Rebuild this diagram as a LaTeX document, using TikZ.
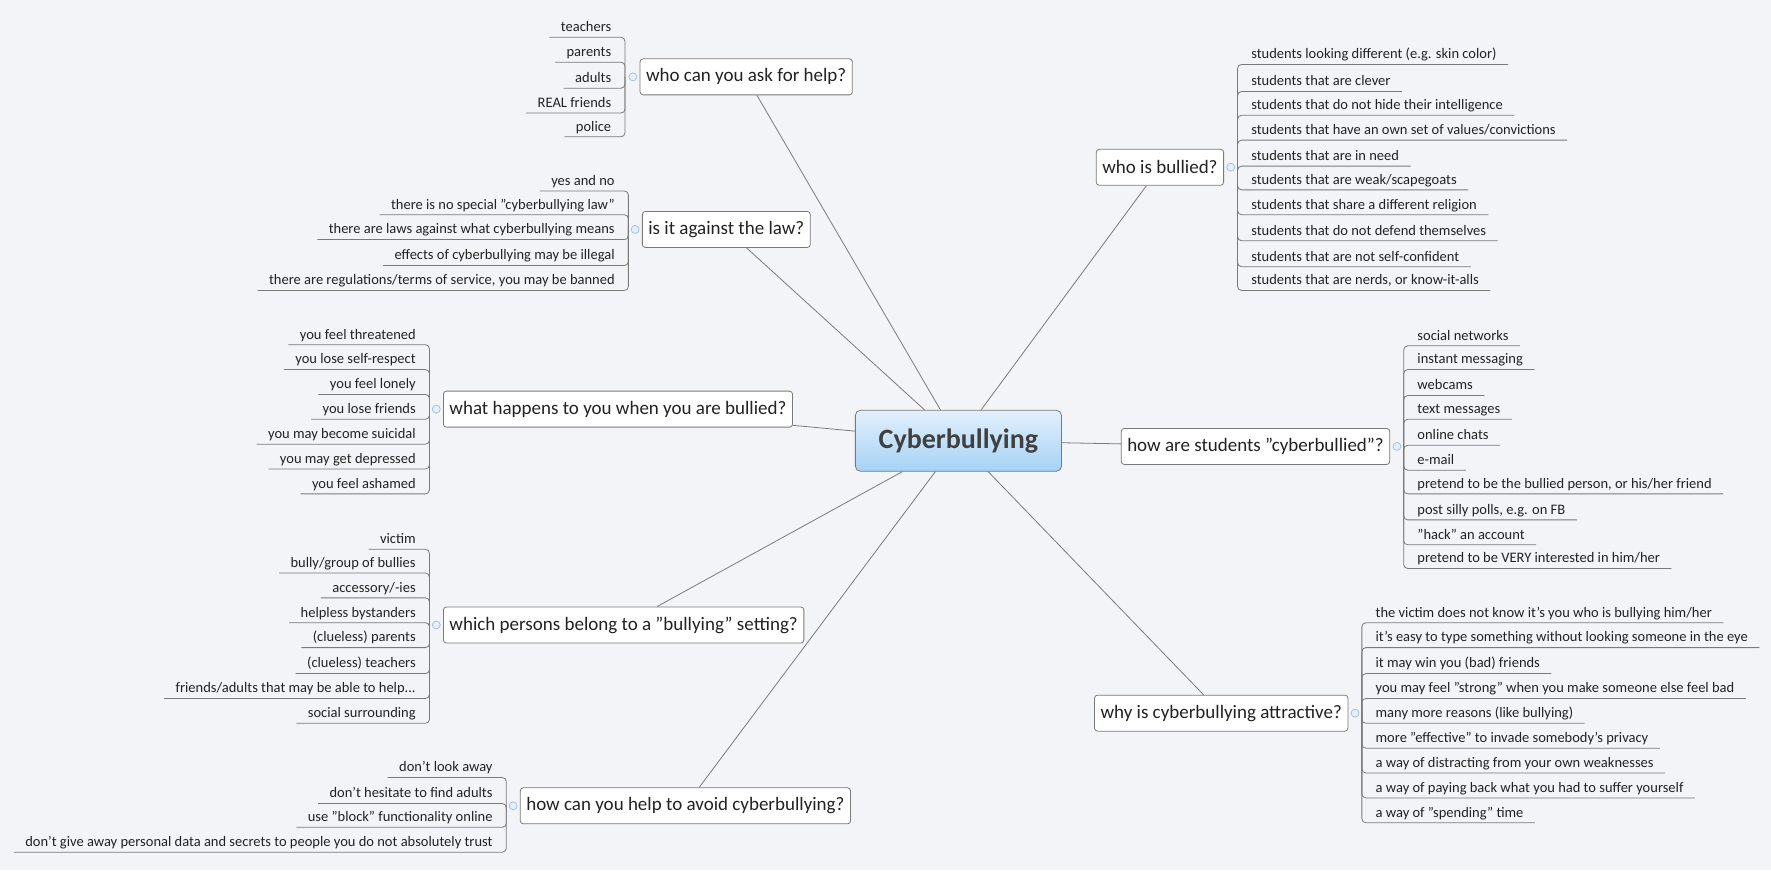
\documentclass[tikz,border=0pt]{standalone}
\usepackage{fontspec}
\setmainfont{Carlito}
\usetikzlibrary{calc}
\definecolor{bg}{HTML}{F3F4F8}
\definecolor{ln}{HTML}{7A7A7A}
\definecolor{tx}{HTML}{222222}
\definecolor{jt}{HTML}{9DBCE0}
\definecolor{ctop}{HTML}{E2F0FC}
\definecolor{cbot}{HTML}{A6D2F5}
\tikzset{
  leaf/.style={inner sep=0pt,font=\fontsize{14.5}{16}\selectfont,text=tx},
  leafline/.style={draw=ln,line width=0.8pt,rounded corners=4pt},
  branch/.style={draw=ln,fill=white,rounded corners=3pt,minimum height=36pt,inner xsep=6pt,font=\fontsize{19}{21}\selectfont,text=tx,line width=0.8pt},
  conn/.style={draw=ln,line width=0.8pt},
  joint/.style={circle,draw=jt,fill=jt!25,inner sep=0pt,minimum size=8pt,line width=0.7pt},
}
\newcommand\LL[5]{\node[leaf,anchor=base east] (#1) at (#2-12,#3+4) {#5};
  \draw[leafline] ($(#1.base west)+(-10,5)$) -- (#2,#3+9) -- (#2,#4);}
\newcommand\RL[5]{\node[leaf,anchor=base west] (#1) at (#2+12,#3+4) {#5};
  \draw[leafline] ($(#1.base east)+(10,5)$) -- (#2,#3+9) -- (#2,#4);}
\begin{document}
\begin{tikzpicture}[x=1.13pt,y=-1.13pt]
\fill[bg] (0,0) rectangle (1567,770);
\useasboundingbox (0,0) rectangle (1567,770);
\node[draw=ln,rounded corners=5pt,top color=ctop,bottom color=cbot,minimum width=206pt,minimum height=61pt,font=\bfseries\fontsize{28}{30}\selectfont,text=black!75,line width=0.8pt] (c) at (848,390) {Cyberbullying};
% branches
\node[branch,anchor=west] (b1) at (566,68) {who can you ask for help?};
\node[branch,anchor=west] (b2) at (568,203) {is it against the law?};
\node[branch,anchor=west] (b3) at (392,362) {what happens to you when you are bullied?};
\node[branch,anchor=west] (b4) at (392,553) {which persons belong to a "bullying" setting?};
\node[branch,anchor=west] (b5) at (460,713) {how can you help to avoid cyberbullying?};
\node[branch,anchor=east] (b6) at (1083,148) {who is bullied?};
\node[branch,anchor=east] (b7) at (1230,395) {how are students "cyberbullied"?};
\node[branch,anchor=east] (b8) at (1193,631) {why is cyberbullying attractive?};
\foreach \b in {1,...,8}{\draw[conn] (c) -- (b\b);}
% B1
\LL{a1}{553}{24}{68}{teachers}
\LL{a2}{553}{46}{68}{parents}
\LL{a3}{553}{69}{68}{adults}
\LL{a4}{553}{91}{68}{REAL friends}
\LL{a5}{553}{112}{68}{police}
% B2
\LL{l1}{556}{160}{203}{yes and no}
\LL{l2}{556}{181}{203}{there is no special "cyberbullying law"}
\LL{l3}{556}{203}{203}{there are laws against what cyberbullying means}
\LL{l4}{556}{226}{203}{effects of cyberbullying may be illegal}
\LL{l5}{556}{248}{203}{there are regulations/terms of service, you may be banned}
% B3
\LL{h1}{380}{296}{362}{you feel threatened}
\LL{h2}{380}{318}{362}{you lose self-respect}
\LL{h3}{380}{340}{362}{you feel lonely}
\LL{h4}{380}{362}{362}{you lose friends}
\LL{h5}{380}{384}{362}{you may become suicidal}
\LL{h6}{380}{406}{362}{you may get depressed}
\LL{h7}{380}{428}{362}{you feel ashamed}
% B4
\LL{p1}{380}{477}{553}{victim}
\LL{p2}{380}{498}{553}{bully/group of bullies}
\LL{p3}{380}{520}{553}{accessory/-ies}
\LL{p4}{380}{542}{553}{helpless bystanders}
\LL{p5}{380}{564}{553}{(clueless) parents}
\LL{p6}{380}{587}{553}{(clueless) teachers}
\LL{p7}{380}{609}{553}{friends/adults that may be able to help...}
\LL{p8}{380}{631}{553}{social surrounding}
% B5
\LL{v1}{448}{679}{713}{don't look away}
\LL{v2}{448}{702}{713}{don't hesitate to find adults}
\LL{v3}{448}{723}{713}{use "block" functionality online}
\LL{v4}{448}{745}{713}{don't give away personal data and secrets to people you do not absolutely trust}
% B6
\RL{w1}{1095}{48}{148}{students looking different (e.g. skin color)}
\RL{w2}{1095}{72}{148}{students that are clever}
\RL{w3}{1095}{93}{148}{students that do not hide their intelligence}
\RL{w4}{1095}{115}{148}{students that have an own set of values/convictions}
\RL{w5}{1095}{138}{148}{students that are in need}
\RL{w6}{1095}{159}{148}{students that are weak/scapegoats}
\RL{w7}{1095}{181}{148}{students that share a different religion}
\RL{w8}{1095}{204}{148}{students that do not defend themselves}
\RL{w9}{1095}{227}{148}{students that are not self-confident}
\RL{w10}{1095}{248}{148}{students that are nerds, or know-it-alls}
% B7
\RL{s1}{1242}{297}{395}{social networks}
\RL{s2}{1242}{318}{395}{instant messaging}
\RL{s3}{1242}{341}{395}{webcams}
\RL{s4}{1242}{362}{395}{text messages}
\RL{s5}{1242}{385}{395}{online chats}
\RL{s6}{1242}{407}{395}{e-mail}
\RL{s7}{1242}{428}{395}{pretend to be the bullied person, or his/her friend}
\RL{s8}{1242}{451}{395}{post silly polls, e.g. on FB}
\RL{s9}{1242}{473}{395}{"hack" an account}
\RL{s10}{1242}{494}{395}{pretend to be VERY interested in him/her}
% B8
\RL{r1}{1205}{542}{631}{the victim does not know it's you who is bullying him/her}
\RL{r2}{1205}{564}{631}{it's easy to type something without looking someone in the eye}
\RL{r3}{1205}{587}{631}{it may win you (bad) friends}
\RL{r4}{1205}{609}{631}{you may feel "strong" when you make someone else feel bad}
\RL{r5}{1205}{631}{631}{many more reasons (like bullying)}
\RL{r6}{1205}{653}{631}{more "effective" to invade somebody's privacy}
\RL{r7}{1205}{675}{631}{a way of distracting from your own weaknesses}
\RL{r8}{1205}{697}{631}{a way of paying back what you had to suffer yourself}
\RL{r9}{1205}{719}{631}{a way of "spending" time}
% joints
\node[joint] (j1) at (560,68) {};
\node[joint] (j2) at (562,203) {};
\node[joint] (j3) at (386,362) {};
\node[joint] (j4) at (386,553) {};
\node[joint] (j5) at (454,713) {};
\node[joint] (j6) at (1089,148) {};
\node[joint] (j7) at (1236,395) {};
\node[joint] (j8) at (1199,631) {};
\end{tikzpicture}
\end{document}
